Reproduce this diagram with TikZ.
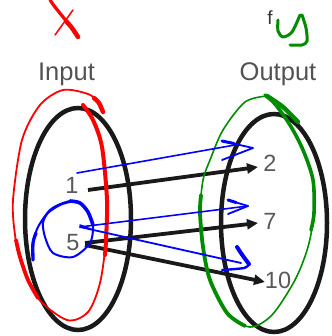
\documentclass[tikz,border=0pt]{standalone}
\usepackage{fontspec}
\setmainfont{Liberation Sans}
\usetikzlibrary{arrows.meta}
\begin{document}
\begin{tikzpicture}[x=1pt,y=-1pt,
  ell/.style={line width=4.5pt, black!90},
  arr/.style={line width=3.8pt, black!90, -{Triangle[length=11pt,width=10pt]}},
  lbl/.style={font=\fontsize{25.5}{28}\selectfont, text=black!68, inner sep=0pt, anchor=base},
  num/.style={font=\fontsize{23.5}{26}\selectfont, text=black!65, inner sep=0pt},
  pen/.style={line cap=round, line join=round},
  redpen/.style={pen, draw=red},
  greenpen/.style={pen, draw=green!55!black},
  bluepen/.style={pen, draw=blue}
]
\useasboundingbox (0,0) rectangle (331,336);

% sets
\draw[ell] (78,219) ellipse [x radius=53, y radius=111];
\draw[ell] (274,223) ellipse [x radius=53, y radius=109];

% labels
\node[lbl] (input) at (66.5,81) {Input};
\node[lbl] (output) at (278,81) {Output};
\node[font=\fontsize{19}{21}\selectfont, text=black!80, inner sep=0pt] (f) at (270,18) {f};

% numbers
\node[num] (n1) at (72,185) {1};
\node[num] (n5) at (73,243) {5};
\node[num] (n2) at (270,163) {2};
\node[num] (n7) at (270,221) {7};
\node[num] (n10) at (278,280) {10};

% arrow end points
\coordinate (s1) at (88,190);
\coordinate (s5a) at (85,243);
\coordinate (s5b) at (85,245);
\coordinate (t2) at (258,167);
\coordinate (t7) at (258,223);
\coordinate (t10) at (265,282);
\draw[arr] (s1) -- (t2);
\draw[arr] (s5a) -- (t7);
\draw[arr] (s5b) -- (t10);

% red x
\draw[redpen, line width=3.2pt] plot[smooth] coordinates {(50,0) (55,7) (63,17) (72,28) (78,37)};
\draw[redpen, line width=4.5pt] plot[smooth] coordinates {(66,21) (72,28) (78,37)};
\draw[redpen, line width=1.5pt] (73,10) -- (55,35);

% green y
\draw[greenpen, line width=3pt] plot[smooth] coordinates {(278,20) (278,31) (283,37) (292,32) (300,15)};
\draw[greenpen, line width=3pt] plot[smooth] coordinates {(302,15) (306,28) (307,41) (302,45) (290,45)};

% red loop round the input set
\draw[redpen, line width=1.8pt] plot[smooth] coordinates {(103,112) (98,102) (88,94) (63,90) (40,105) (22,140) (13,200) (15,235) (20,257) (37,297) (67,320) (88,312) (100,283) (106,240) (107,200) (102,147) (93,120) (83,105)};
\draw[redpen, line width=4.5pt] plot[smooth] coordinates {(103,112) (99,103) (94,98)};
\draw[redpen, line width=3.8pt] plot[smooth] coordinates {(16,240) (20,257) (28,280) (38,298)};
\draw[redpen, line width=4pt] plot[smooth] coordinates {(105,255) (106,240) (107,200) (102,147) (93,120) (83,105)};

% green loop round the output set
\draw[greenpen, line width=1.6pt] plot[smooth] coordinates {(267,96) (245,102) (223,130) (210,160) (203,180) (200,213) (203,247) (210,280) (227,313) (250,327) (272,315) (295,280) (308,247) (314,213) (313,180) (303,150) (290,125) (275,104) (265,95)};
\draw[greenpen, line width=4.5pt] plot[smooth] coordinates {(298,122) (283,107) (267,96)};
\draw[greenpen, line width=3.8pt] plot[smooth] coordinates {(201,195) (200,213) (203,247) (210,280) (227,313) (245,326)};
\draw[greenpen, line width=3.6pt] plot[smooth] coordinates {(311,230) (314,213) (313,180) (303,150) (290,125) (275,104) (265,95)};

% blue circle round 5
\draw[bluepen, line width=2pt] plot[smooth] coordinates {(33,260) (33,243) (38,227) (50,210) (63,203) (72,201) (80,203) (88,212) (93,225) (90,243) (73,257) (53,253) (45,237) (43,223) (48,213) (60,205) (70,202)};
\draw[bluepen, line width=3.3pt] plot[smooth] coordinates {(33,260) (33,243) (36,233)};
\draw[bluepen, line width=3.6pt] plot[smooth] coordinates {(70,201) (80,203) (88,212) (93,225)};

% blue arrows
\coordinate (b1) at (77,173);
\coordinate (b5) at (80,227);
\draw[bluepen, line width=1.6pt] (b1) -- (235,145);
\draw[bluepen, line width=1.8pt] (222,141) -- (253,148) -- (222,160);
\draw[bluepen, line width=3pt] (222,141) -- (234,143.5);
\draw[bluepen, line width=1.6pt] (b5) -- (248,206);
\draw[bluepen, line width=1.6pt] (80,225) -- (93,230);
\draw[bluepen, line width=1.8pt] (228,200) -- (248,206) -- (228,214);
\draw[bluepen, line width=3pt] (228,200) -- (236,202.5);
\draw[bluepen, line width=1.8pt] (b5) -- (241,263);
\draw[bluepen, line width=4pt] plot[smooth] coordinates {(237,247) (243,256) (249,264)};
\draw[bluepen, line width=2.4pt] plot[smooth] coordinates {(249,264) (244,268) (222,270)};
\end{tikzpicture}
\end{document}
